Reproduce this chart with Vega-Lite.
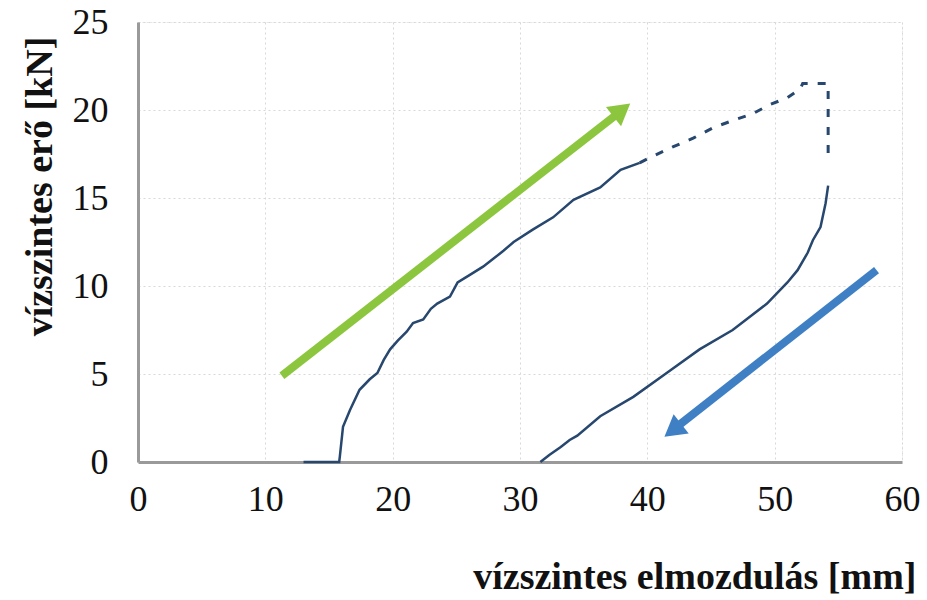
{
  "$schema": "https://vega.github.io/schema/vega-lite/v6.json",
  "width": 764,
  "height": 440,
  "autosize": "none",
  "padding": {"left": 138, "top": 22, "right": 25, "bottom": 138},
  "background": "white",
  "config": {
    "view": {"stroke": "#e6e6e6", "strokeWidth": 1, "strokeDash": [2, 2]},
    "font": "Liberation Serif"
  },
  "datasets": {
    "loading": [
      {"i": 0, "x": 13.0, "y": 0}, {"i": 1, "x": 15.8, "y": 0}, {"i": 2, "x": 15.85, "y": 0.3},
      {"i": 3, "x": 16.1, "y": 2.0}, {"i": 4, "x": 16.65, "y": 2.95}, {"i": 5, "x": 17.4, "y": 4.1},
      {"i": 6, "x": 18.2, "y": 4.7}, {"i": 7, "x": 18.8, "y": 5.06}, {"i": 8, "x": 19.3, "y": 5.8},
      {"i": 9, "x": 19.8, "y": 6.4}, {"i": 10, "x": 20.4, "y": 6.9}, {"i": 11, "x": 21.1, "y": 7.4},
      {"i": 12, "x": 21.6, "y": 7.9}, {"i": 13, "x": 22.4, "y": 8.1}, {"i": 14, "x": 23.0, "y": 8.7},
      {"i": 15, "x": 23.5, "y": 9.0}, {"i": 16, "x": 24.5, "y": 9.4}, {"i": 17, "x": 25.1, "y": 10.2},
      {"i": 18, "x": 26.0, "y": 10.6}, {"i": 19, "x": 27.1, "y": 11.1}, {"i": 20, "x": 28.0, "y": 11.6},
      {"i": 21, "x": 28.7, "y": 12.0}, {"i": 22, "x": 29.5, "y": 12.5}, {"i": 23, "x": 31.0, "y": 13.2},
      {"i": 24, "x": 32.6, "y": 13.9}, {"i": 25, "x": 34.2, "y": 14.9}, {"i": 26, "x": 36.3, "y": 15.6},
      {"i": 27, "x": 37.9, "y": 16.6}, {"i": 28, "x": 39.4, "y": 17.0}
    ],
    "dashed": [
      {"i": 0, "x": 39.4, "y": 17.0}, {"i": 1, "x": 40.5, "y": 17.4}, {"i": 2, "x": 42.0, "y": 17.9},
      {"i": 3, "x": 43.6, "y": 18.4}, {"i": 4, "x": 45.2, "y": 19.0}, {"i": 5, "x": 46.7, "y": 19.4},
      {"i": 6, "x": 48.3, "y": 19.8}, {"i": 7, "x": 49.6, "y": 20.3}, {"i": 8, "x": 51.0, "y": 20.7},
      {"i": 9, "x": 52.0, "y": 21.2}, {"i": 10, "x": 52.2, "y": 21.5}, {"i": 11, "x": 53.6, "y": 21.5},
      {"i": 12, "x": 54.2, "y": 21.5}, {"i": 13, "x": 54.2, "y": 17.3}
    ],
    "unloading": [
      {"i": 0, "x": 54.2, "y": 15.7}, {"i": 1, "x": 54.0, "y": 14.7}, {"i": 2, "x": 53.6, "y": 13.35},
      {"i": 3, "x": 53.0, "y": 12.6}, {"i": 4, "x": 52.6, "y": 11.9}, {"i": 5, "x": 51.8, "y": 10.9},
      {"i": 6, "x": 51.0, "y": 10.2}, {"i": 7, "x": 49.4, "y": 9.0}, {"i": 8, "x": 46.7, "y": 7.5},
      {"i": 9, "x": 44.1, "y": 6.4}, {"i": 10, "x": 41.6, "y": 5.1}, {"i": 11, "x": 38.9, "y": 3.7},
      {"i": 12, "x": 36.3, "y": 2.6}, {"i": 13, "x": 34.5, "y": 1.5}, {"i": 14, "x": 33.9, "y": 1.25},
      {"i": 15, "x": 33.2, "y": 0.85}, {"i": 16, "x": 32.3, "y": 0.4}, {"i": 17, "x": 31.6, "y": 0}
    ],
    "greenArrow": [{"i": 0, "x": 11.3, "y": 4.9}, {"i": 1, "x": 37.5, "y": 19.7}],
    "greenHead": [{"x": 38.0, "y": 20.0}],
    "blueArrow": [{"i": 0, "x": 58.0, "y": 10.9}, {"i": 1, "x": 42.6, "y": 2.16}],
    "blueHead": [{"x": 42.0, "y": 1.8}]
  },
  "layer": [
    {
      "data": {"name": "loading"},
      "mark": {"type": "line", "color": "#27476e", "strokeWidth": 2.5},
      "encoding": {
        "x": {
          "field": "x", "type": "quantitative",
          "scale": {"domain": [0, 60], "nice": false},
          "axis": {
            "title": "vízszintes elmozdulás [mm]",
            "values": [0, 10, 20, 30, 40, 50, 60],
            "labelFont": "Liberation Serif", "labelFontSize": 36, "labelColor": "#111",
            "labelPadding": 20, "ticks": false, "labelFlush": false,
            "domainColor": "#9a9a9a", "domainWidth": 3,
            "grid": true, "gridColor": "#d8d8d8", "gridDash": [2, 3], "gridWidth": 1,
            "titleFont": "Liberation Serif", "titleFontSize": 38, "titleFontWeight": "bold", "titleColor": "#111",
            "titleAnchor": "end", "titleAlign": "right", "titleBaseline": "alphabetic",
            "titleX": 778, "titleY": 126
          }
        },
        "y": {
          "field": "y", "type": "quantitative",
          "scale": {"domain": [0, 25], "nice": false},
          "axis": {
            "title": "vízszintes erő [kN]",
            "values": [0, 5, 10, 15, 20, 25],
            "labelFont": "Liberation Serif", "labelFontSize": 36, "labelColor": "#111",
            "labelPadding": 30, "ticks": false, "labelFlush": false,
            "domainColor": "#9a9a9a", "domainWidth": 3,
            "grid": true, "gridColor": "#d8d8d8", "gridDash": [2, 3], "gridWidth": 1,
            "titleFont": "Liberation Serif", "titleFontSize": 38, "titleFontWeight": "bold", "titleColor": "#111",
            "titleAngle": -90, "titleAlign": "center", "titleBaseline": "middle",
            "titleX": -98, "titleY": 164
          }
        },
        "order": {"field": "i", "type": "quantitative"}
      }
    },
    {
      "data": {"name": "dashed"},
      "mark": {"type": "line", "color": "#27476e", "strokeWidth": 3, "strokeDash": [8, 10]},
      "encoding": {
        "x": {"field": "x", "type": "quantitative"},
        "y": {"field": "y", "type": "quantitative"},
        "order": {"field": "i", "type": "quantitative"}
      }
    },
    {
      "data": {"name": "unloading"},
      "mark": {"type": "line", "color": "#27476e", "strokeWidth": 2.5},
      "encoding": {
        "x": {"field": "x", "type": "quantitative"},
        "y": {"field": "y", "type": "quantitative"},
        "order": {"field": "i", "type": "quantitative"}
      }
    },
    {
      "data": {"name": "greenArrow"},
      "mark": {"type": "line", "color": "#8cc63f", "strokeWidth": 8, "strokeCap": "butt"},
      "encoding": {
        "x": {"field": "x", "type": "quantitative"},
        "y": {"field": "y", "type": "quantitative"},
        "order": {"field": "i", "type": "quantitative"}
      }
    },
    {
      "data": {"name": "greenHead"},
      "mark": {"type": "point", "shape": "triangle-up", "filled": true, "color": "#8cc63f", "size": 600, "angle": 52, "opacity": 1},
      "encoding": {
        "x": {"field": "x", "type": "quantitative"},
        "y": {"field": "y", "type": "quantitative"}
      }
    },
    {
      "data": {"name": "blueArrow"},
      "mark": {"type": "line", "color": "#3f7fc4", "strokeWidth": 8, "strokeCap": "butt"},
      "encoding": {
        "x": {"field": "x", "type": "quantitative"},
        "y": {"field": "y", "type": "quantitative"},
        "order": {"field": "i", "type": "quantitative"}
      }
    },
    {
      "data": {"name": "blueHead"},
      "mark": {"type": "point", "shape": "triangle-up", "filled": true, "color": "#3f7fc4", "size": 600, "angle": 232, "opacity": 1},
      "encoding": {
        "x": {"field": "x", "type": "quantitative"},
        "y": {"field": "y", "type": "quantitative"}
      }
    }
  ]
}
